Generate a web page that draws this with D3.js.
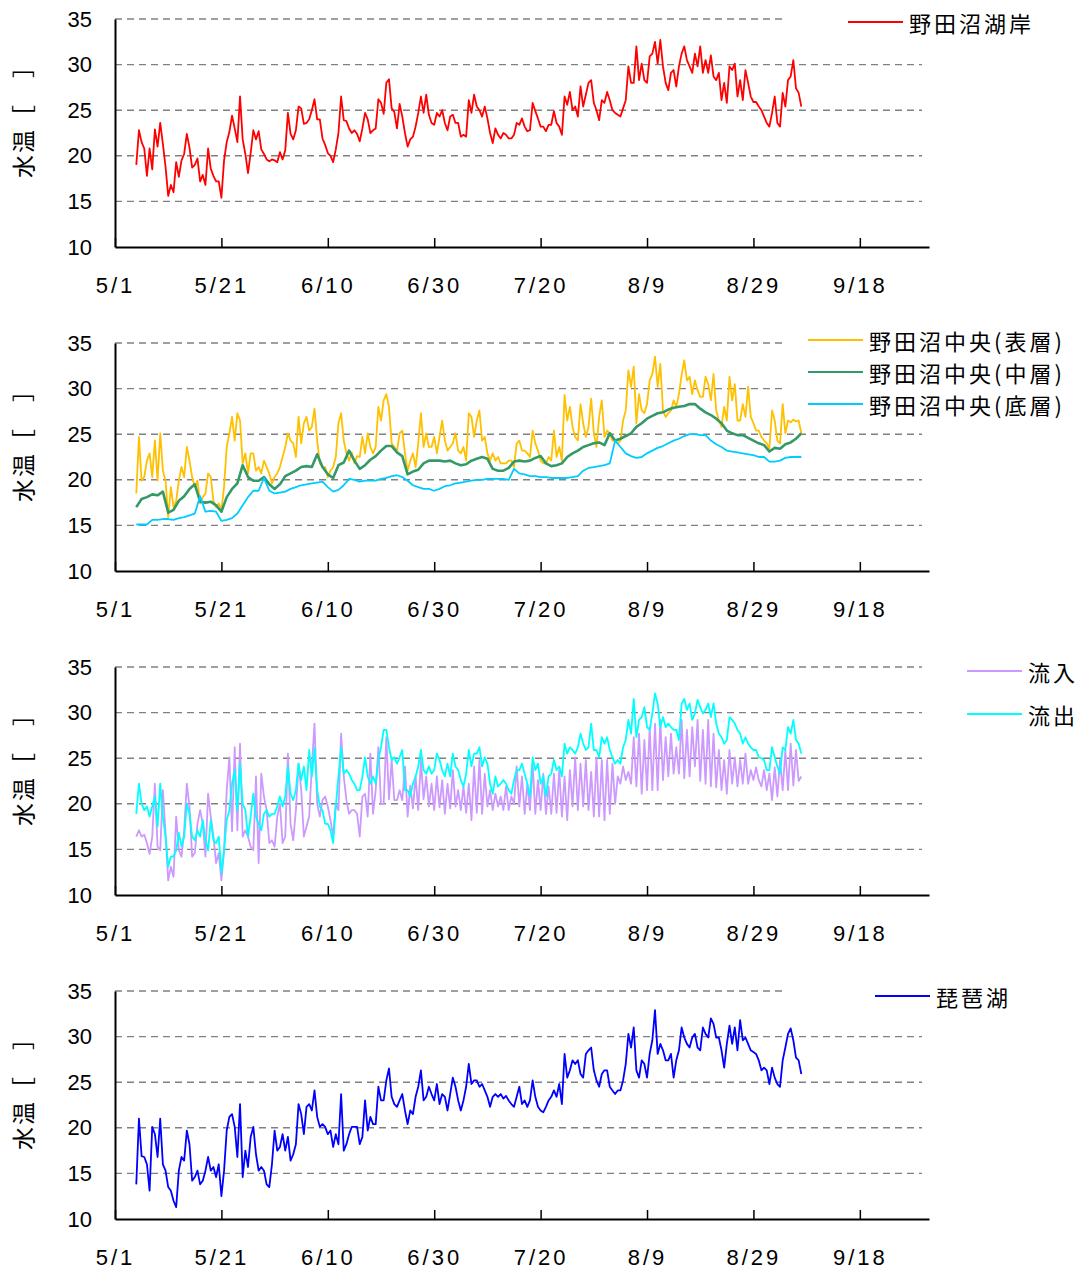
<!DOCTYPE html>
<html>
<head>
<meta charset="utf-8">
<script src="https://cdn.jsdelivr.net/npm/d3@7"></script>
<style>
  body { margin: 0; background: #fff; }
</style>
</head>
<body>
<div id="chart"></div>
<script>
// x axis labels and y ticks
const tickLabels = ["5/1", "5/21", "6/10", "6/30", "7/20", "8/9", "8/29", "9/18"];
const yTickValues = [10, 15, 20, 25, 30, 35];
const axisStart = "5/1";
const axisEnd = "10/1";
const firstDay = "5/5";   // first reading of every series

// water temperature, one value every 12 hours from 5/5
const shore = [
  19.0, 22.8, 21.5, 20.8, 17.8, 20.8, 18.5, 22.9, 21.0, 23.6,
  21.3, 18.8, 15.6, 16.8, 16.0, 19.3, 17.7, 19.5, 20.2, 22.4,
  20.9, 18.7, 19.0, 19.7, 17.2, 17.9, 16.8, 20.8, 18.6, 17.8,
  17.2, 17.2, 15.4, 19.5, 21.5, 22.6, 24.4, 23.0, 21.5, 26.5,
  21.8, 20.2, 18.1, 20.3, 22.8, 21.8, 22.7, 20.7, 20.2, 19.6,
  19.4, 19.6, 19.5, 19.3, 20.4, 19.6, 20.6, 24.7, 22.4, 21.8,
  22.8, 25.4, 25.2, 23.5, 23.6, 24.0, 25.0, 26.2, 24.0, 24.0,
  21.9, 21.2, 20.3, 20.0, 19.3, 20.7, 22.5, 26.5, 23.9, 23.8,
  23.0, 22.5, 22.8, 22.4, 21.6, 23.0, 24.7, 24.0, 22.5, 22.8,
  23.0, 26.2, 25.8, 24.6, 28.0, 28.4, 25.2, 24.8, 23.0, 25.7,
  24.3, 22.5, 21.0, 21.8, 22.1, 23.2, 24.7, 26.5, 24.7, 26.7,
  24.5, 23.6, 23.4, 24.7, 24.3, 25.0, 23.6, 22.8, 24.3, 24.5,
  23.6, 23.6, 22.1, 22.3, 22.1, 26.1, 24.7, 26.7, 25.4, 25.0,
  24.3, 25.4, 24.1, 22.5, 21.4, 23.0, 22.3, 21.9, 22.5, 22.3,
  21.9, 21.9, 22.3, 23.6, 23.4, 24.1, 23.2, 22.7, 22.8, 25.8,
  24.9, 24.1, 23.2, 23.2, 22.7, 23.4, 23.4, 24.9, 23.6, 23.2,
  22.3, 26.5, 25.6, 27.0, 25.0, 25.4, 24.3, 27.6, 25.4, 26.7,
  28.0, 28.3, 25.8, 25.0, 23.9, 26.1, 25.8, 27.0, 26.1, 25.0,
  24.7, 24.5, 24.3, 25.2, 26.1, 29.8, 28.0, 28.0, 32.0, 28.3,
  30.1, 28.3, 28.0, 30.9, 31.2, 32.5, 30.1, 32.7, 29.8, 28.0,
  27.2, 29.1, 29.4, 27.6, 29.8, 31.2, 32.0, 30.5, 29.8, 29.1,
  31.2, 29.8, 32.0, 29.1, 30.5, 29.1, 31.0, 28.7, 28.3, 29.1,
  26.1, 28.0, 25.8, 29.8, 29.4, 30.1, 26.5, 28.3, 26.1, 29.4,
  28.0, 26.5, 25.9, 25.9, 25.4, 25.0, 24.3, 23.6, 23.2, 24.7,
  26.5, 23.6, 23.2, 26.9, 25.4, 28.3, 28.7, 30.5, 27.4, 26.9,
  25.4
];

const centreSurface = [
  18.5, 24.7, 19.9, 20.3, 22.1, 22.9, 20.3, 24.3, 19.9, 25.1,
  21.0, 19.9, 15.9, 19.2, 17.0, 17.7, 19.9, 21.4, 20.3, 23.6,
  22.1, 20.3, 19.2, 19.9, 17.4, 18.1, 18.5, 20.7, 20.3, 17.7,
  17.0, 17.4, 16.7, 19.2, 23.6, 25.1, 26.9, 24.3, 27.3, 26.5,
  21.8, 22.9, 20.7, 22.9, 22.9, 21.0, 21.4, 20.7, 22.1, 21.4,
  20.7, 19.6, 20.3, 20.7, 21.4, 22.5, 23.6, 25.1, 24.3, 24.0,
  22.5, 26.9, 24.0, 26.2, 26.9, 25.4, 25.8, 27.8, 24.3, 21.8,
  21.4, 21.4, 20.3, 21.0, 21.4, 22.5, 26.2, 27.3, 24.3, 22.9,
  22.1, 23.0, 21.8, 22.6, 22.5, 24.7, 22.9, 25.1, 23.6, 22.9,
  23.6, 28.0, 26.5, 28.7, 29.4, 28.0, 24.0, 23.6, 23.2, 25.1,
  25.4, 22.9, 21.0, 22.1, 22.9, 21.4, 24.0, 27.3, 23.6, 25.1,
  23.6, 23.6, 24.7, 22.9, 24.7, 26.5, 24.3, 23.2, 23.6, 24.0,
  25.1, 23.2, 22.9, 23.6, 22.1, 27.3, 26.9, 24.7, 26.5, 27.6,
  24.3, 24.7, 22.9, 22.1, 22.9, 22.1, 22.5, 21.8, 21.8, 21.8,
  22.1, 22.1, 21.4, 24.0, 24.3, 23.2, 23.2, 22.9, 22.5, 25.4,
  24.0, 23.2, 22.1, 21.8, 21.8, 22.5, 22.1, 25.4, 22.5, 23.6,
  22.1, 29.3, 26.5, 28.0, 25.8, 24.7, 24.3, 28.3, 26.2, 24.7,
  25.8, 28.9, 25.1, 23.6, 26.9, 28.7, 24.7, 25.4, 25.1, 24.3,
  24.3, 24.0, 24.3, 26.5, 27.6, 32.0, 30.2, 32.4, 26.2, 29.4,
  27.6, 27.3, 28.3, 30.9, 31.6, 33.5, 30.2, 32.7, 27.6, 26.9,
  27.3, 27.6, 28.7, 28.0, 29.4, 31.5, 33.1, 30.9, 31.3, 29.4,
  30.9, 29.8, 29.1, 29.1, 31.3, 30.5, 28.7, 31.6, 27.6, 26.5,
  25.8, 28.0, 26.5, 31.3, 28.7, 30.5, 26.5, 26.5, 28.3, 26.9,
  30.2, 26.9, 26.2, 25.4, 25.4, 24.7, 24.3, 24.0, 23.4, 27.6,
  26.5, 24.3, 24.0, 28.3, 25.1, 26.5, 26.3, 26.6, 26.4, 26.5,
  25.1
];

// one value a day from 5/5
const centreMiddle = [
  17.0, 17.9, 18.1, 18.4, 18.3, 18.7, 16.4, 16.7, 17.7, 18.2,
  19.0, 19.5, 17.6, 17.5, 17.6, 17.2, 16.5, 18.1, 19.0, 19.6,
  21.6, 20.3, 19.9, 19.9, 20.3, 19.5, 19.0, 19.5, 20.4, 20.7,
  21.0, 21.4, 21.5, 21.4, 22.8, 21.4, 20.6, 20.2, 21.6, 21.9,
  23.2, 22.1, 21.2, 21.6, 22.2, 22.6, 23.2, 23.7, 23.7, 23.0,
  22.6, 20.6, 20.9, 21.1, 21.8, 22.1, 22.1, 22.1, 22.0, 22.1,
  21.8, 21.6, 21.7, 22.1, 22.3, 22.5, 22.3, 21.2, 21.0, 21.0,
  21.3, 22.0, 22.1, 22.0, 22.1, 22.4, 22.6, 21.8, 21.5, 21.6,
  21.8, 22.5, 22.9, 23.2, 23.6, 23.8, 24.0, 24.1, 23.8, 25.1,
  24.3, 24.5, 24.8, 25.1, 25.8, 26.2, 26.7, 27.0, 27.3, 27.4,
  27.7, 27.9, 28.0, 28.1, 28.3, 28.3, 27.8, 27.4, 27.1, 26.7,
  26.2, 25.4, 25.1, 24.9, 24.9, 24.6, 24.3, 24.0, 23.8, 23.1,
  23.5, 23.4, 23.9, 24.1, 24.5, 25.1
];

const centreBottom = [
  15.1, 15.1, 15.1, 15.6, 15.6, 15.7, 15.7, 15.6, 15.8, 15.9,
  16.1, 16.3, 18.2, 16.5, 16.6, 16.5, 15.5, 15.6, 15.8, 16.3,
  17.2, 18.1, 18.8, 18.8, 20.2, 18.8, 18.5, 18.6, 18.7, 19.0,
  19.2, 19.4, 19.5, 19.6, 19.7, 19.8, 19.2, 18.7, 18.9, 19.4,
  20.1, 20.0, 19.8, 19.9, 19.9, 19.9, 20.1, 20.2, 20.4, 20.5,
  20.3, 19.9, 19.4, 19.2, 19.0, 19.0, 18.8, 19.0, 19.3, 19.4,
  19.6, 19.7, 19.8, 19.9, 20.0, 20.0, 20.1, 20.1, 20.1, 20.1,
  20.0, 21.2, 20.7, 20.6, 20.4, 20.4, 20.3, 20.3, 20.2, 20.2,
  20.2, 20.2, 20.3, 20.4, 21.0, 21.3, 21.4, 21.5, 21.6, 21.8,
  24.3, 23.6, 22.9, 22.6, 22.4, 22.5, 22.9, 23.2, 23.5, 23.7,
  24.0, 24.3, 24.5, 24.8, 25.0, 25.0, 24.9, 24.9, 24.3, 23.9,
  23.6, 23.2, 23.1, 23.0, 22.9, 22.8, 22.7, 22.5, 22.5, 22.0,
  22.0, 22.1, 22.4, 22.5, 22.5, 22.5
];

// every 12 hours from 5/5
const inflow = [
  16.4, 17.1, 16.4, 16.6, 15.7, 14.5, 16.4, 22.2, 15.3, 14.9,
  21.5, 16.8, 11.6, 13.1, 12.0, 18.6, 14.9, 14.2, 17.1, 22.2,
  19.7, 14.2, 14.6, 17.8, 19.3, 17.8, 14.2, 21.1, 18.6, 16.4,
  13.5, 14.6, 11.6, 14.9, 21.5, 25.1, 17.0, 26.2, 17.1, 26.6,
  16.4, 17.1, 16.4, 15.3, 14.9, 23.0, 13.5, 23.3, 20.8, 19.3,
  15.7, 16.0, 15.3, 18.6, 20.0, 15.7, 16.4, 25.5, 17.8, 16.0,
  19.3, 24.4, 21.5, 16.4, 17.5, 18.6, 24.1, 28.8, 20.0, 18.6,
  20.4, 20.8, 19.7, 18.2, 16.4, 20.0, 19.3, 27.7, 23.0, 20.4,
  18.9, 19.3, 19.3, 18.9, 16.4, 20.8, 21.1, 18.6, 25.5, 18.9,
  21.5, 26.2, 20.0, 20.0, 27.3, 20.5, 24.8, 20.4, 20.4, 21.5,
  20.4, 24.1, 18.6, 22.0, 19.5, 23.0, 19.3, 24.8, 20.5, 23.0, 19.7, 22.2,
  19.3, 23.0, 19.6, 22.6, 18.9, 22.2, 19.5, 23.7, 19.7, 21.5, 19.3, 21.9,
  19.0, 22.2, 18.2, 24.1, 19.0, 24.8, 18.9, 23.3, 19.7, 21.5, 19.3, 21.1,
  19.7, 20.8, 19.3, 21.9, 19.3, 20.8, 20.0, 24.1, 19.7, 23.0, 18.9, 22.2,
  19.3, 24.4, 18.9, 22.6, 19.3, 23.3, 18.9, 21.9, 18.9, 23.3, 19.0, 23.7,
  18.6, 23.0, 18.2, 23.7, 19.7, 25.1, 19.3, 24.4, 19.7, 24.8, 19.3, 23.5,
  18.6, 25.1, 18.6, 24.8, 18.2, 24.8, 18.9, 24.4, 20.0, 23.0, 22.2, 24.1,
  22.6, 23.5, 22.2, 27.3, 21.9, 27.7, 21.1, 27.0, 21.5, 28.4, 21.5, 28.8,
  21.5, 29.2, 22.6, 27.3, 23.0, 27.7, 23.3, 26.2, 23.3, 29.2, 22.8, 28.1,
  23.0, 28.4, 24.1, 29.2, 22.5, 28.1, 22.2, 29.2, 21.9, 27.7, 21.8, 25.9,
  21.5, 24.8, 21.1, 25.9, 22.2, 25.1, 21.9, 24.8, 22.2, 25.5, 22.2, 23.7,
  22.6, 24.0, 22.6,
  21.9, 23.7, 21.5, 23.3, 20.4, 24.0, 20.8, 24.8, 21.5, 25.9, 21.5, 26.6,
  22.0, 25.9, 22.5, 23.0
];

const outflow = [
  18.9, 22.2, 20.0, 19.3, 19.7, 18.6, 19.7, 20.8, 17.5, 22.2,
  18.6, 16.4, 13.1, 14.2, 14.2, 14.9, 16.8, 15.3, 16.4, 20.0,
  18.9, 16.4, 16.0, 17.1, 16.4, 18.2, 16.0, 14.9, 18.2, 16.0,
  15.7, 16.4, 12.4, 14.9, 18.2, 19.3, 22.2, 23.7, 19.3, 24.4,
  20.0, 19.3, 16.4, 18.6, 21.1, 18.6, 17.8, 17.1, 18.9, 19.3,
  18.6, 18.9, 18.9, 19.7, 20.8, 19.7, 20.8, 24.1, 21.1, 20.4,
  21.5, 24.4, 22.6, 24.1, 21.5, 25.9, 23.0, 26.1, 21.5, 19.7,
  19.3, 17.8, 17.8, 17.1, 15.7, 19.7, 23.0, 26.2, 23.3, 23.7,
  23.3, 22.6, 22.2, 21.5, 21.5, 23.0, 25.1, 23.0, 22.2, 23.0,
  22.2, 24.8, 26.2, 28.1, 28.1, 26.2, 24.8, 25.1, 24.4, 25.1,
  25.9, 21.5, 21.5, 20.8, 22.2, 23.0, 24.1, 25.9, 23.7, 23.3,
  24.1, 23.3, 23.7, 25.5, 24.8, 23.7, 23.0, 24.4, 23.0, 25.5,
  24.1, 23.7, 22.6, 21.9, 23.3, 25.9, 24.1, 25.5, 25.5, 26.2,
  24.1, 25.1, 24.4, 22.2, 21.1, 23.0, 21.9, 22.2, 22.6, 22.2,
  21.5, 21.1, 22.6, 23.7, 23.7, 24.4, 23.3, 22.2, 20.8, 25.1,
  23.7, 24.4, 22.2, 23.0, 20.8, 23.0, 23.3, 24.8, 23.7, 24.1,
  23.0, 26.6, 25.5, 26.2, 25.9, 25.5, 26.2, 27.7, 26.6, 25.9,
  26.2, 28.8, 25.9, 25.9, 25.1, 27.3, 26.6, 27.3, 25.9, 25.1,
  24.4, 24.8, 24.4, 26.2, 27.0, 29.2, 27.7, 31.5, 27.3, 29.2,
  29.5, 30.6, 28.4, 28.1, 29.9, 32.1, 31.0, 28.4, 29.5, 28.4,
  28.8, 28.4, 28.1, 28.1, 27.0, 31.0, 31.5, 30.3, 31.0, 29.2,
  29.9, 31.4, 30.6, 29.9, 30.3, 31.0, 29.5, 31.0, 28.8, 27.7,
  27.3, 26.6, 27.0, 29.5, 29.2, 28.8, 28.1, 27.7, 26.6, 27.3,
  26.6, 26.2, 25.9, 25.9, 25.1, 25.0, 24.8, 23.7, 23.7, 26.2,
  25.1, 24.1, 23.3, 26.2, 25.9, 28.4, 27.7, 29.2, 27.0, 26.6,
  25.5
];

const biwa = [
  13.8, 21.0, 16.9, 16.8, 16.0, 13.1, 20.1, 19.3, 16.8, 21.0,
  16.0, 15.3, 13.5, 13.1, 12.0, 11.3, 15.3, 16.8, 16.4, 19.7,
  18.2, 14.2, 14.6, 15.3, 13.8, 14.2, 15.3, 16.8, 15.3, 15.7,
  14.6, 16.0, 12.5, 15.3, 19.7, 21.2, 21.5, 20.1, 16.8, 22.6,
  14.6, 17.5, 15.7, 19.0, 20.1, 17.1, 15.3, 15.7, 15.3, 13.8,
  13.5, 16.0, 19.7, 17.5, 17.9, 19.3, 17.5, 19.0, 16.4, 17.1,
  18.2, 22.6, 21.5, 19.3, 22.3, 22.6, 21.9, 24.1, 21.2, 20.1,
  20.4, 20.1, 19.3, 19.7, 17.9, 19.3, 18.2, 23.7, 17.5, 18.2,
  19.3, 20.1, 20.1, 20.1, 18.2, 19.0, 23.0, 19.7, 21.2, 20.4,
  20.4, 24.5, 23.0, 23.0, 25.2, 26.5, 23.4, 22.6, 22.3, 23.0,
  23.7, 21.9, 20.4, 21.9, 21.5, 23.4, 24.5, 26.3, 23.0, 23.4,
  24.5, 23.7, 23.0, 24.8, 22.6, 23.7, 23.4, 21.9, 23.7, 25.5,
  24.5, 23.0, 21.9, 23.0, 24.5, 27.0, 24.8, 25.2, 25.2, 24.5,
  24.8, 24.1, 23.4, 22.3, 23.4, 23.7, 23.4, 23.7, 23.2, 23.5,
  23.0, 22.6, 22.3, 23.4, 24.5, 22.6, 23.0, 22.3, 23.0, 25.2,
  23.4, 22.3, 21.9, 21.7, 22.3, 23.0, 23.4, 24.1, 23.4, 24.8,
  22.6, 28.1, 25.5, 26.3, 27.4, 27.0, 27.4, 25.9, 25.5, 28.1,
  28.5, 28.8, 26.3, 25.2, 24.5, 25.9, 26.3, 26.3, 24.5, 24.1,
  23.7, 24.1, 24.1, 25.2, 27.0, 30.3, 28.8, 31.0, 26.3, 25.5,
  27.4, 27.0, 25.5, 28.1, 29.6, 32.9, 28.1, 29.2, 28.5, 27.4,
  27.4, 28.1, 25.5, 27.4, 28.5, 31.0, 29.9, 29.2, 28.8, 29.9,
  30.3, 28.8, 28.5, 31.0, 30.3, 29.9, 32.0, 31.4, 29.9, 29.9,
  28.5, 26.6, 29.2, 31.2, 29.2, 31.0, 28.5, 31.8, 29.6, 29.9,
  29.2, 28.5, 28.3, 28.1, 27.4, 26.3, 26.6, 26.3, 24.8, 26.6,
  25.5, 24.8, 24.5, 27.4, 28.8, 30.3, 30.9, 29.6, 27.7, 27.4,
  25.9
];

const YEAR = 2010;
const md = s => {
  const [m, d] = s.split("/").map(Number);
  return new Date(Date.UTC(YEAR, m - 1, d));
};

const W = 1085, H = 1274;
const left = 115, right = 929, gridEnd = 922;
const numFont = "'Liberation Sans', Arial, sans-serif";
const jpFont = "'Noto Sans CJK JP', 'Noto Sans', sans-serif";

const x = d3.scaleUtc().domain([md(axisStart), md(axisEnd)]).range([left, right]);

function toPoints(values, stepHours) {
  const t0 = md(firstDay);
  return values.map((v, i) => ({ date: d3.utcHour.offset(t0, i * stepHours), value: v }));
}

const panels = [
  {
    top: 19, bottom: 247,
    series: [{ name: "野田沼湖岸", values: shore, step: 12, color: "#ff0000" }],
    legend: { x: 848, rows: [3], box: [-18, 44] }
  },
  {
    top: 343, bottom: 571,
    series: [
      { name: "野田沼中央(表層)", values: centreSurface, step: 12, color: "#ffc000" },
      { name: "野田沼中央(中層)", values: centreMiddle, step: 24, color: "#339966", width: 2.6 },
      { name: "野田沼中央(底層)", values: centreBottom, step: 24, color: "#00ccff" }
    ],
    legend: { x: 808, rows: [-3, 29, 61], box: [-20, 95] }
  },
  {
    top: 667, bottom: 895,
    series: [
      { name: "流入", values: inflow, step: 12, color: "#cc99ff" },
      { name: "流出", values: outflow, step: 12, color: "#00ffff" }
    ],
    legend: { x: 967, rows: [4, 47], box: null }
  },
  {
    top: 991, bottom: 1219,
    series: [{ name: "琵琶湖", values: biwa, step: 12, color: "#0000ff" }],
    legend: { x: 875, rows: [5], box: [-18, 44] }
  }
];

const svg = d3.select("#chart").append("svg")
  .attr("width", W)
  .attr("height", H)
  .attr("viewBox", `0 0 ${W} ${H}`)
  .style("background", "#fff");

panels.forEach(p => {
  const g = svg.append("g");
  const y = d3.scaleLinear().domain([10, 35]).range([p.bottom, p.top]);

  // dashed grid
  g.append("g").selectAll("line")
    .data(yTickValues.filter(v => v > 10))
    .join("line")
    .attr("x1", left)
    .attr("x2", gridEnd)
    .attr("y1", d => y(d))
    .attr("y2", d => y(d))
    .attr("stroke", "#808080")
    .attr("stroke-width", 1.4)
    .attr("stroke-dasharray", "7,5");

  const line = d3.line()
    .x(d => x(d.date))
    .y(d => y(d.value));

  p.series.forEach(s => {
    g.append("path")
      .datum(toPoints(s.values, s.step))
      .attr("fill", "none")
      .attr("stroke", s.color)
      .attr("stroke-width", s.width || 1.8)
      .attr("stroke-linejoin", "round")
      .attr("d", line);
  });

  // white legend area covers the plot top right
  if (p.legend.box) {
    g.append("rect")
      .attr("x", 785)
      .attr("y", p.top + p.legend.box[0])
      .attr("width", W - 785)
      .attr("height", p.legend.box[1])
      .attr("fill", "#fff");
  }

  // axes
  g.append("g")
    .attr("transform", `translate(0,${p.bottom})`)
    .call(d3.axisBottom(x)
      .tickValues(tickLabels.map(md))
      .tickFormat((d, i) => tickLabels[i])
      .tickSize(-9)
      .tickSizeOuter(0)
      .tickPadding(30))
    .call(a => a.select(".domain").attr("stroke", "#000").attr("stroke-width", 2))
    .call(a => a.selectAll(".tick line").attr("stroke", "#000").attr("stroke-width", 1.5))
    .call(a => a.selectAll("text")
      .attr("fill", "#000")
      .attr("font-family", numFont)
      .attr("font-size", 22)
      .attr("letter-spacing", 3));

  g.append("g")
    .attr("transform", `translate(${left},0)`)
    .call(d3.axisLeft(y)
      .tickValues(yTickValues)
      .tickSize(0)
      .tickPadding(23))
    .call(a => a.select(".domain").attr("stroke", "#000").attr("stroke-width", 2))
    .call(a => a.selectAll("text")
      .attr("fill", "#000")
      .attr("font-family", numFont)
      .attr("font-size", 22));

  // y title
  g.append("text")
    .attr("transform", `translate(22,${p.top + 159}) rotate(-90)`)
    .attr("text-anchor", "start")
    .attr("dominant-baseline", "central")
    .attr("font-family", jpFont)
    .attr("font-size", 23)
    .attr("letter-spacing", 2)
    .attr("fill", "#000")
    .text("水温［　］");

  // legend
  p.series.forEach((s, i) => {
    const ly = p.top + p.legend.rows[i];
    g.append("line")
      .attr("x1", p.legend.x)
      .attr("x2", p.legend.x + 55)
      .attr("y1", ly)
      .attr("y2", ly)
      .attr("stroke", s.color)
      .attr("stroke-width", 2);
    g.append("text")
      .attr("x", p.legend.x + 61)
      .attr("y", ly)
      .attr("dominant-baseline", "central")
      .attr("font-family", jpFont)
      .attr("font-size", 22)
      .attr("letter-spacing", 3)
      .attr("fill", "#000")
      .text(s.name);
  });
});
</script>
</body>
</html>
